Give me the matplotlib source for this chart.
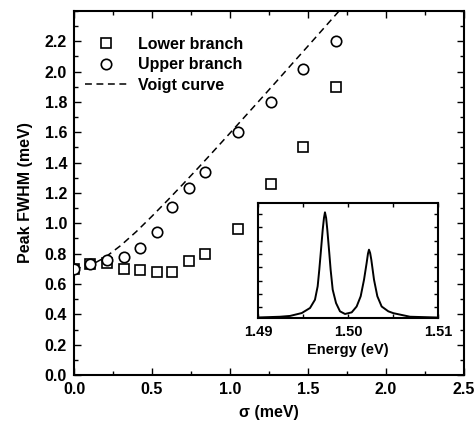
import numpy as np
import matplotlib
matplotlib.use("Agg")
import matplotlib.pyplot as plt
from matplotlib.legend_handler import HandlerLine2D
from matplotlib.ticker import MultipleLocator

plt.rcParams['font.family'] = ['Liberation Sans', 'DejaVu Sans']
plt.rcParams['font.weight'] = 'bold'
plt.rcParams['axes.labelweight'] = 'bold'

# ---- data ----
sigma_lower = [0.0, 0.10, 0.21, 0.32, 0.42, 0.53, 0.63, 0.74, 0.84, 1.05, 1.26, 1.47, 1.68]
fwhm_lower = [0.70, 0.73, 0.74, 0.70, 0.69, 0.68, 0.68, 0.75, 0.80, 0.96, 1.26, 1.50, 1.90]
sigma_upper = [0.0, 0.10, 0.21, 0.32, 0.42, 0.53, 0.63, 0.74, 0.84, 1.05, 1.26, 1.47, 1.68]
fwhm_upper = [0.70, 0.73, 0.76, 0.78, 0.84, 0.94, 1.11, 1.23, 1.34, 1.60, 1.80, 2.02, 2.20]
sigma_voigt = [0.0, 0.1, 0.2, 0.3, 0.4, 0.5, 0.6, 0.7, 0.8, 0.9, 1.0, 1.1, 1.2,
               1.3, 1.4, 1.5, 1.6, 1.7]
fwhm_voigt = [0.700, 0.720, 0.776, 0.854, 0.946, 1.047, 1.152, 1.260, 1.370,
              1.482, 1.595, 1.709, 1.823, 1.938, 2.054, 2.169, 2.285, 2.401]

energy = [1.4902, 1.49244, 1.49356, 1.49486, 1.49578, 1.49633, 1.49663, 1.49681,
          1.49697, 1.49719, 1.49733, 1.49744, 1.49757, 1.49770, 1.49792, 1.49807,
          1.49830, 1.49867, 1.49911, 1.49967, 1.50041, 1.50096, 1.50141, 1.50178,
          1.50207, 1.50222, 1.50233, 1.50246, 1.50259, 1.50289, 1.50326, 1.50374,
          1.50448, 1.50504, 1.50689, 1.5100]
intensity = [0.005, 0.011, 0.018, 0.043, 0.087, 0.159, 0.276, 0.420,
             0.565, 0.768, 0.870, 0.919, 0.870, 0.768, 0.565, 0.420,
             0.246, 0.130, 0.058, 0.035, 0.049, 0.100, 0.189, 0.333,
             0.478, 0.560, 0.594, 0.565, 0.507, 0.333, 0.189, 0.100,
             0.058, 0.042, 0.011, 0.004]


class RightMarkerHandler(HandlerLine2D):
    def get_xdata(self, legend, xdescent, ydescent, width, height, fontsize):
        xdata, xm = super().get_xdata(legend, xdescent, ydescent, width, height, fontsize)
        return xdata, np.array([width - xdescent + 1.5])


fig = plt.figure(figsize=(4.77, 4.26), dpi=100)
ax = fig.add_axes([74/477, 1 - 375/426, 390/477, 364/426])

ax.plot(sigma_lower, fwhm_lower, ls='none', marker='s', ms=6.5, mfc='white',
        mec='black', mew=1.2, label='Lower branch', zorder=3)
ax.plot(sigma_upper, fwhm_upper, ls='none', marker='o', ms=7.5, mfc='white',
        mec='black', mew=1.2, label='Upper branch', zorder=3)
ax.plot(sigma_voigt, fwhm_voigt, ls=(0, (4.5, 3)), color='black', lw=1.1,
        label='Voigt curve', zorder=2)

ax.set_xlim(0, 2.5)
ax.set_ylim(0, 2.4)
ax.xaxis.set_major_locator(MultipleLocator(0.5))
ax.xaxis.set_minor_locator(MultipleLocator(0.25))
ax.yaxis.set_major_locator(MultipleLocator(0.2))
ax.yaxis.set_minor_locator(MultipleLocator(0.1))
ax.set_xticks(np.arange(0, 2.51, 0.5))
ax.set_xticklabels([f"{v:.1f}" for v in np.arange(0, 2.51, 0.5)])
ax.set_yticks(np.arange(0, 2.21, 0.2))
ax.set_yticklabels([f"{v:.1f}" for v in np.arange(0, 2.21, 0.2)])
ax.tick_params(which='both', direction='in', top=True, right=True,
               labelsize=11.5, width=1.0)
ax.tick_params(which='major', length=5, pad=5)
ax.tick_params(which='minor', length=3)
for s in ax.spines.values():
    s.set_linewidth(1.5)

ax.set_xlabel('σ (meV)', fontsize=11.5, labelpad=6)
ax.set_ylabel('Peak FWHM (meV)', fontsize=11.5, labelpad=8)

leg = ax.legend(loc='upper left', bbox_to_anchor=(0.0, 0.96), frameon=False,
                fontsize=11.5, numpoints=1, handlelength=2.6, handletextpad=0.7,
                labelspacing=0.35, borderaxespad=0.3,
                handler_map={matplotlib.lines.Line2D: RightMarkerHandler()})

# ---- inset ----
axi = fig.add_axes([258/477, 1 - 318/426, 180/477, 115/426])
axi.plot(energy, intensity, color='black', lw=1.4, solid_joinstyle='round')
axi.set_xlim(1.49, 1.51)
axi.set_ylim(0, 1)
axi.set_xticks([1.49, 1.50, 1.51])
axi.set_xticklabels(['1.49', '1.50', '1.51'])
axi.set_xticks([1.495, 1.505], minor=True)
axi.set_yticks(np.arange(0.093, 1.0, 0.116))
axi.set_yticklabels([])
axi.tick_params(which='both', direction='in', top=True, right=True,
                labelsize=10.5, width=1.0, length=3, pad=5)
for s in axi.spines.values():
    s.set_linewidth(1.5)
axi.set_xlabel('Energy (eV)', fontsize=10.5, labelpad=3)

fig.savefig('out.png', dpi=100)
